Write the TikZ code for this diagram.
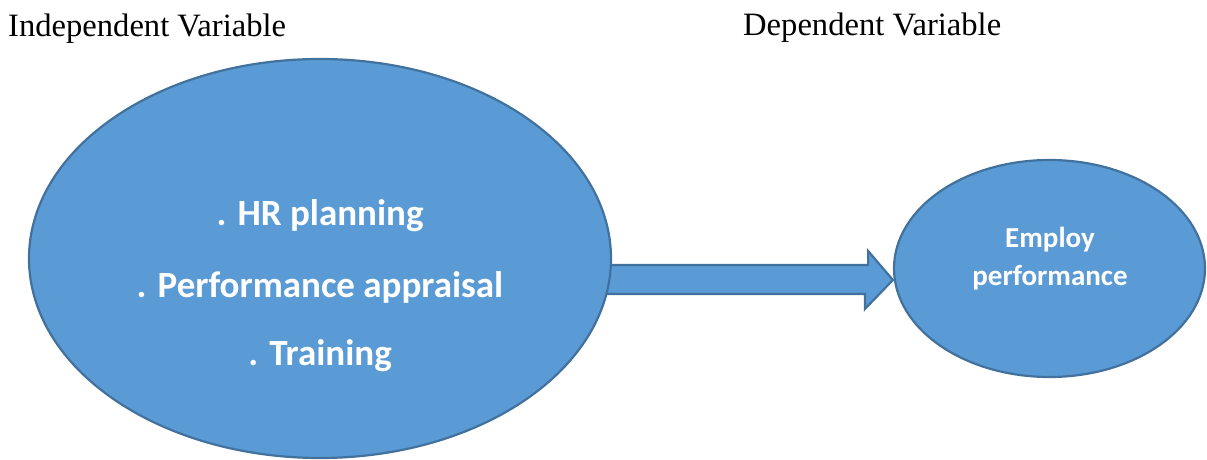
\documentclass[tikz,border=0pt]{standalone}
\usepackage{fontspec}
\setmainfont{Liberation Serif}
\newfontfamily\carlito{Carlito}
\usetikzlibrary{shapes.geometric,backgrounds}
\definecolor{fillblue}{HTML}{5B9BD5}
\definecolor{edgeblue}{HTML}{41719C}
\tikzset{
  blob/.style={ellipse, draw=edgeblue, fill=fillblue, line width=2.2pt, inner sep=0pt},
  bigtxt/.style={anchor=base, inner sep=0pt, text=white, font=\carlito\bfseries\fontsize{37}{44}\selectfont},
  smalltxt/.style={anchor=base, inner sep=0pt, text=white, font=\carlito\bfseries\fontsize{29}{34}\selectfont},
  heading/.style={anchor=base west, inner sep=0pt, font=\fontsize{32.6}{38}\selectfont},
  blockarrow/.style={draw=edgeblue, fill=fillblue, line width=2.2pt, line join=miter}
}
\begin{document}
\begin{tikzpicture}[x=1pt,y=1pt]
\useasboundingbox (0,0) rectangle (1207,459);
\node[heading] (indep) at (8,422) {Independent Variable};
\node[heading] (dep) at (743,423) {Dependent Variable};
\node[blob, minimum width=582pt, minimum height=399pt] (big) at (320,200.5) {};
\node[blob, minimum width=311pt, minimum height=217pt] (small) at (1049.5,190.5) {};
\coordinate (tip) at ([yshift=-11.5pt]small.west);
\begin{scope}[on background layer]
\draw[blockarrow] ([shift={(-11pt,-6.5pt)}]big.east) coordinate (s1)
  -- ++(267,0) -- ++(0,14) -- (tip) -- ++(-28,-29) -- ++(0,15) -- ++(-267,0) -- cycle;
\end{scope}
\node[bigtxt] (l1) at (320,234) {. HR planning};
\node[bigtxt] (l2) at (320,162) {. Performance appraisal};
\node[bigtxt] (l3) at (320,94) {. Training};
\node[smalltxt] (e1) at (1050,212) {Employ};
\node[smalltxt] (e2) at (1050,174) {performance};
\end{tikzpicture}
\end{document}
